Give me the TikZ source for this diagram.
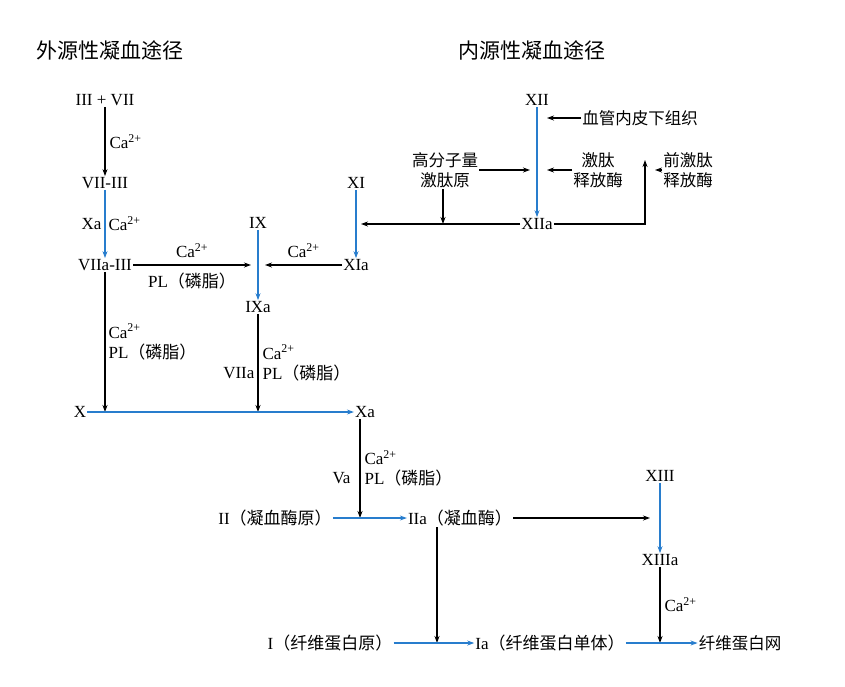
\documentclass[tikz,border=0pt]{standalone}
\usepackage{fontspec}
\setmainfont{Liberation Serif}
\newfontfamily\cjk{Noto Sans CJK SC}
\usetikzlibrary{arrows.meta}
\definecolor{pathblue}{RGB}{40,125,205}
\tikzset{
    lbl/.style={font=\fontsize{17}{20}\selectfont, text=black, inner sep=1pt, align=center},
    zh/.style={font=\cjk\fontsize{16.5}{20}\selectfont, text=black, inner sep=1pt, align=center},
    flow/.style={-{Stealth[length=7pt,width=5pt]}, line width=1.1pt},
    bflow/.style={flow, pathblue}
}
\newcommand{\ca}{Ca\textsuperscript{2+}}
\newcommand{\pl}{PL{\cjk（磷脂）}}
\begin{document}
\begin{tikzpicture}[x=1pt, y=-1pt]
    \useasboundingbox (0,0) rectangle (845,686);
    % titles
    \node[zh, font=\cjk\fontsize{21}{24}\selectfont] (t1) at (110,50) {外源性凝血途径};
    \node[zh, font=\cjk\fontsize{21}{24}\selectfont] (t2) at (532,50) {内源性凝血途径};
    % factors
    \node[lbl] (f37) at (105,100) {III + VII};
    \node[lbl] (f73) at (105,183) {VII-III};
    \node[lbl] (f7a) at (105,265) {VIIa-III};
    \node[lbl] (fX) at (80,412) {X};
    \node[lbl] (fIX) at (258,223) {IX};
    \node[lbl] (fIXa) at (258,307) {IXa};
    \node[lbl] (fXI) at (356,183) {XI};
    \node[lbl] (fXIa) at (356,265) {XIa};
    \node[lbl] (fXa) at (365,412) {Xa};
    \node[lbl] (fXII) at (537,100) {XII};
    \node[lbl] (fXIIa) at (537,224) {XIIa};
    \node[lbl] (fII) at (275,518) {II{\cjk（凝血酶原）}};
    \node[lbl] (fIIa) at (460,518) {IIa{\cjk（凝血酶）}};
    \node[lbl] (fXIII) at (660,476) {XIII};
    \node[lbl] (fXIIIa) at (660,560) {XIIIa};
    \node[lbl] (fI) at (330,643) {I{\cjk（纤维蛋白原）}};
    \node[lbl] (fIa) at (550,643) {Ia{\cjk（纤维蛋白单体）}};
    \node[zh] (net) at (740,643) {纤维蛋白网};
    \node[zh] (endo) at (640,118) {血管内皮下组织};
    \node[zh] (hmwk) at (445,170) {高分子量\\激肽原};
    \node[zh] (kal) at (598,170) {激肽\\释放酶};
    \node[zh] (pkal) at (688,170) {前激肽\\释放酶};
    % junction points
    \coordinate (jIX) at (258,265);
    \coordinate (jX) at (105,412);
    \coordinate (jXa) at (258,412);
    \coordinate (jII) at (360,518);
    \coordinate (jI) at (437,643);
    \coordinate (jXIII) at (660,518);
    \coordinate (jNet) at (660,643);
    \coordinate (jXI) at (356,224);
    \coordinate (jHm) at (443,224);
    \coordinate (jXII) at (537,118);
    \coordinate (jXII2) at (537,170);
    \coordinate (jKal) at (645,170);
    % extrinsic
    \draw[flow] (f37) -- node[lbl, right=3pt] {\ca} (f73);
    \draw[bflow] (f73) -- node[lbl, right=2pt] {\ca} node[lbl, left=2pt] {Xa} (f7a);
    \draw[flow] (f7a) -- node[lbl, above=6pt] {\ca} node[lbl, below=6pt] {\pl} ([xshift=-7pt]jIX);
    \draw[flow] (fXIa) -- node[lbl, above=6pt] {\ca} ([xshift=7pt]jIX);
    \draw[bflow] (fIX) -- (fIXa);
    \draw[bflow] (fXI) -- (fXIa);
    \draw[flow] (f7a) -- node[lbl, right=2pt, align=left] {\ca\\\pl} (jX);
    \draw[flow] (fIXa) -- node[lbl, right=3pt, align=left] {\ca\\\pl} node[lbl, left=2pt, yshift=-10pt] {VIIa} (jXa);
    \draw[bflow] (fX) -- (fXa);
    % common pathway
    \draw[flow] (fXa.south -| jII) -- node[lbl, right=3pt, align=left] {\ca\\\pl} node[lbl, left=8pt, yshift=-10pt] {Va} (jII);
    \draw[bflow] (fII) -- (fIIa);
    \draw[flow] (fIIa) -- ([xshift=-10pt]jXIII);
    \draw[bflow] (fXIII) -- (fXIIIa);
    \draw[flow] (fXIIIa) -- node[lbl, right=3pt] {\ca} (jNet);
    \draw[flow] (fIIa.south -| jI) -- (jI);
    \draw[bflow] (fI) -- (fIa);
    \draw[bflow] (fIa) -- (net);
    % intrinsic
    \draw[bflow] (fXII) -- (fXIIa);
    \draw[flow] (endo) -- ([xshift=10pt]jXII);
    \draw[flow] (hmwk) -- ([xshift=-7pt]jXII2);
    \draw[flow] (kal) -- ([xshift=10pt]jXII2);
    \draw[flow] (pkal) -- ([xshift=10pt]jKal);
    \draw[flow] (hmwk.south -| jHm) -- (jHm);
    \draw[flow] (fXIIa) -- ([xshift=5pt]jXI);
    \draw[flow] (fXIIa) -| ([yshift=10pt]jKal);
\end{tikzpicture}
\end{document}
